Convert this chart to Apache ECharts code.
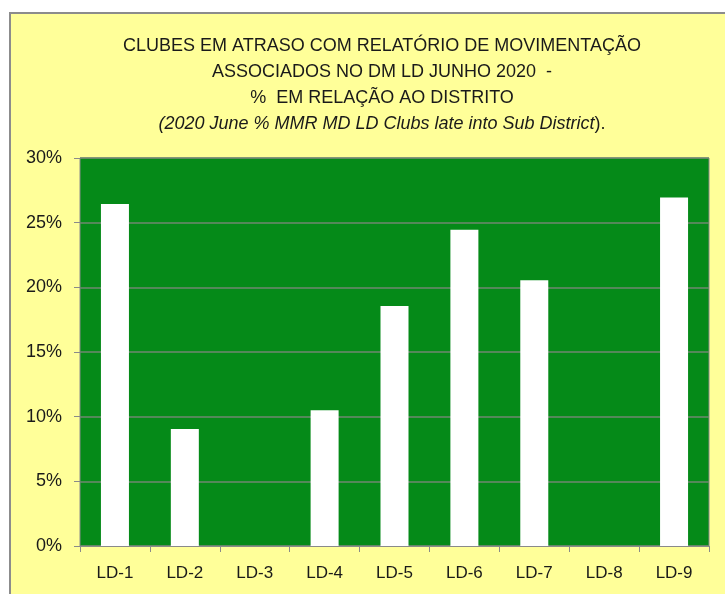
<!DOCTYPE html>
<html>
<head>
<meta charset="utf-8">
<script src="https://cdn.jsdelivr.net/npm/echarts@6/dist/echarts.min.js"></script>
<style>
  html, body { margin: 0; padding: 0; background: #fff; }
  #chart { width: 725px; height: 594px; }
</style>
</head>
<body>
<div id="chart"></div>
<script>
// dados
const categories = ['LD-1', 'LD-2', 'LD-3', 'LD-4', 'LD-5', 'LD-6', 'LD-7', 'LD-8', 'LD-9']
const lateShare = [26.45, 9.05, 0, 10.5, 18.55, 24.45, 20.55, 0, 26.95]
const titleLines = [
    'CLUBES EM ATRASO COM RELATÓRIO DE MOVIMENTAÇÃO',
    'ASSOCIADOS NO DM LD JUNHO 2020  -',
    '%  EM RELAÇÃO AO DISTRITO'
]
const subtitleItalic = '(2020 June % MMR MD LD Clubs late into Sub District'
const subtitleEnd = ').'

const font = '"Liberation Sans", sans-serif'
const textColor = '#1a1a1a'

const chart = echarts.init(document.getElementById('chart'))

const option = {
    backgroundColor: '#ffffff',
    animation: false,
    graphic: [
        {
            type: 'rect',
            z: -10,
            shape: { x: 10, y: 13, width: 800, height: 700 },
            style: { fill: '#FFFF99', stroke: '#8c8c8c', lineWidth: 2 }
        }
    ],
    title: {
        left: 377,
        top: 28,
        textAlign: 'center',
        text: titleLines.join('\n') + '\n{i|' + subtitleItalic + '}{n|' + subtitleEnd + '}',
        textStyle: {
            fontFamily: font,
            fontSize: 18,
            fontWeight: 'normal',
            color: textColor,
            lineHeight: 26,
            align: 'center',
            rich: {
                i: { fontFamily: font, fontSize: 18, fontStyle: 'italic', color: textColor, lineHeight: 26 },
                n: { fontFamily: font, fontSize: 18, color: textColor, lineHeight: 26 }
            }
        }
    },
    grid: {
        left: 80,
        right: 16,
        top: 158,
        bottom: 48,
        show: true,
        backgroundColor: '#058A18',
        borderColor: '#8a8a8a',
        borderWidth: 1
    },
    xAxis: {
        type: 'category',
        data: categories,
        axisLine: { lineStyle: { color: '#8a8a8a', width: 1 } },
        axisTick: { show: true, length: 6, lineStyle: { color: '#8a8a8a' } },
        axisLabel: { color: textColor, fontFamily: font, fontSize: 17, margin: 19 }
    },
    yAxis: {
        type: 'value',
        min: 0,
        max: 30,
        interval: 5,
        axisLine: { show: false },
        axisTick: { show: true, length: 6, lineStyle: { color: '#8a8a8a' } },
        axisLabel: {
            color: textColor,
            fontFamily: font,
            fontSize: 18,
            margin: 18,
            formatter: '{value}%'
        },
        splitLine: { lineStyle: { color: '#6f876f', width: 1.5 } }
    },
    series: [
        {
            type: 'bar',
            data: lateShare,
            barWidth: 28,
            itemStyle: { color: '#ffffff' }
        }
    ]
}

chart.setOption(option)
</script>
</body>
</html>
